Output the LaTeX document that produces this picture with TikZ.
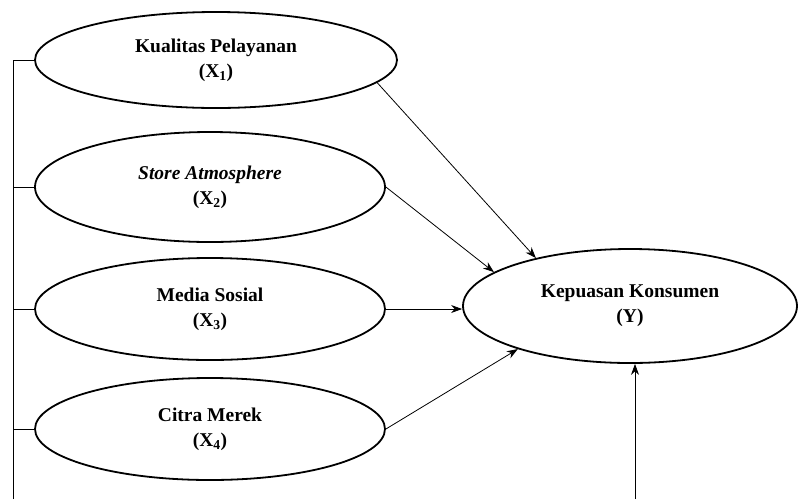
\documentclass[tikz,border=0pt]{standalone}
\usepackage{fontspec}
\setmainfont{Liberation Serif}
\usetikzlibrary{shapes.geometric, arrows.meta, calc}
\tikzset{>={Stealth[length=11pt, width=8pt]}}

\tikzset{
  var/.style={ellipse, draw, line width=1.8pt, inner sep=0pt, align=center,
    font=\bfseries\fontsize{19.5}{25}\selectfont},
  path/.style={->, line width=0.8pt}
}

\begin{document}
\begin{tikzpicture}[x=1pt, y=-1pt]
    \useasboundingbox (0,0) rectangle (800,499);
    \node [var, minimum width=362, minimum height=96] (x1) at (216,60) {Kualitas Pelayanan\\(X\textsubscript{1})};
    \node [var, minimum width=350, minimum height=110] (x2) at (210,187) {\textit{Store Atmosphere}\\(X\textsubscript{2})};
    \node [var, minimum width=350, minimum height=102] (x3) at (210,309) {Media Sosial\\(X\textsubscript{3})};
    \node [var, minimum width=350, minimum height=102] (x4) at (210,429) {Citra Merek\\(X\textsubscript{4})};
    \node [var, minimum width=334, minimum height=114] (y) at (630,306) {Kepuasan Konsumen\\(Y)};
    \coordinate (lbot) at (13,499);
    \coordinate (ybot) at (635,499);
    % left bracket
    \draw [line width=0.8pt] (lbot) |- (x1.west);
    \foreach \v in {x2, x3, x4}
        \draw [line width=0.8pt] (\v.west) -- (\v.west -| lbot);
    % arrows
    \draw [path] (x1.-8) -- (y.153);
    \draw [path] (x2.east) -- (y.166);
    \draw [path] (x3.east) -- (x3.east -| y.west);
    \draw [path] (x4.east) -- (y.-159);
    \draw [path] (ybot) -- (ybot |- y.south);
\end{tikzpicture}
\end{document}
